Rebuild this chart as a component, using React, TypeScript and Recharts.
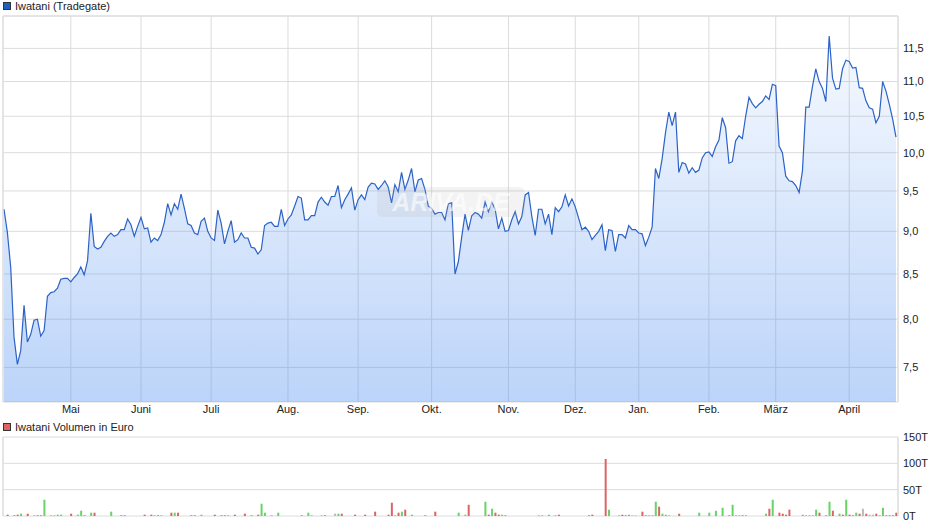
import { ComposedChart, Area, Bar, Cell, XAxis, YAxis, CartesianGrid, ReferenceLine } from "recharts"

// daily closing prices (EUR), one per trading day
const prices = [
  9.27, 8.99, 8.58, 7.81, 7.53, 7.67, 8.15, 7.76, 7.84, 7.99,
  8.0, 7.82, 7.88, 8.25, 8.29, 8.3, 8.34, 8.44, 8.45, 8.45,
  8.41, 8.46, 8.5, 8.58, 8.49, 8.65, 9.22, 8.82, 8.79, 8.81,
  8.88, 8.94, 8.98, 8.94, 8.96, 9.02, 9.02, 9.15, 9.08, 8.94,
  9.06, 9.17, 9.03, 9.04, 8.87, 8.92, 8.89, 8.96, 9.11, 9.34,
  9.2, 9.34, 9.27, 9.46, 9.28, 9.09, 9.07, 8.98, 8.96, 9.12,
  9.16, 9.0, 8.92, 8.89, 9.26, 9.1, 8.85, 9.0, 9.13, 8.87,
  8.9, 8.98, 8.92, 8.92, 8.81, 8.8, 8.73, 8.78, 9.07, 9.1,
  9.11, 9.06, 9.06, 9.27, 9.07, 9.15, 9.2, 9.31, 9.43, 9.41,
  9.14, 9.14, 9.19, 9.19, 9.36,
  9.42, 9.36, 9.32, 9.43, 9.43, 9.57, 9.29, 9.39, 9.46, 9.54,
  9.26, 9.39, 9.45, 9.39, 9.55, 9.6, 9.59, 9.52, 9.57, 9.63,
  9.55, 9.35, 9.58, 9.49, 9.74, 9.52, 9.64, 9.79, 9.49, 9.64,
  9.66, 9.52, 9.31, 9.28, 9.21, 9.23, 9.23, 9.14, 9.34, 9.35,
  8.5, 8.64, 8.93, 9.21, 9.01, 9.19, 9.23, 9.21, 9.16, 9.36,
  9.24, 9.36, 9.27, 9.03, 9.16, 9.0, 9.01, 9.14, 9.24, 9.09,
  9.18, 9.45, 9.48, 9.18, 8.95, 9.27, 9.27, 9.09, 9.21, 8.96,
  9.29, 9.24, 9.3, 9.45, 9.31, 9.4, 9.3, 9.16, 9.02, 9.05,
  9.0, 8.9, 8.95, 9.0, 9.08, 8.77, 9.02, 9.01, 8.76, 8.96,
  8.96, 8.92, 9.07, 9.02, 9.02, 8.98, 8.97, 8.83, 8.93, 9.05,
  9.79, 9.66, 9.92, 10.27, 10.56, 10.37, 10.56, 9.74, 9.87, 9.85,
  9.73, 9.8, 9.74, 9.77, 9.93, 10.0, 10.01, 9.95, 10.08, 10.17,
  10.48, 10.34, 9.86, 9.88, 10.16, 10.23, 10.19, 10.5, 10.77, 10.68,
  10.62, 10.67, 10.71, 10.79, 10.74, 10.96, 10.94, 10.09, 10.0, 9.69,
  9.63, 9.62, 9.57, 9.48, 9.76, 10.63, 10.63, 10.93, 11.19, 11.0,
  10.9, 10.71, 11.69, 11.05, 10.89, 10.9, 11.19, 11.32, 11.3, 11.2,
  11.21, 10.91, 10.9, 10.72, 10.62, 10.6, 10.41, 10.5, 11.0, 10.86,
  10.67, 10.46, 10.21,
]

// [trading day, volume in thousand EUR, u = up / d = down / n = unchanged]
const volumeDays: [number, number, string][] = [
  [1, 2.5, "d"], [3, 1.3, "d"], [4, 2.5, "d"], [5, 4.4, "u"], [7, 4.4, "d"], [9, 1.3, "u"],
  [10, 1.3, "d"], [11, 1.3, "d"], [12, 30.8, "u"], [14, 1.3, "u"], [15, 1.3, "u"], [16, 2.5, "u"],
  [17, 2.5, "u"], [20, 4.4, "d"], [22, 2.5, "u"], [23, 10, "u"], [24, 1.3, "d"], [26, 6.3, "u"],
  [27, 6.3, "d"], [32, 8.2, "u"], [35, 1.3, "d"], [36, 1.3, "d"], [42, 2.5, "d"], [44, 2.5, "d"],
  [45, 1.3, "u"], [46, 1.3, "d"], [47, 1.3, "u"], [50, 6.3, "d"], [51, 6.3, "u"], [52, 6.3, "d"],
  [56, 1.3, "d"], [57, 1.3, "d"], [59, 2.5, "u"], [63, 2.5, "d"], [65, 1.3, "d"], [66, 1.3, "d"],
  [67, 1.3, "u"], [69, 2.5, "d"], [72, 4.4, "d"], [74, 1.3, "d"], [76, 2.5, "d"], [77, 23.3, "u"],
  [78, 6.3, "u"], [80, 1.3, "u"], [82, 6.3, "u"], [89, 1.3, "d"], [91, 6.3, "u"], [92, 1.3, "u"],
  [95, 1.3, "u"], [96, 1.3, "d"], [99, 4.4, "n"], [100, 4.4, "u"], [101, 4.4, "d"], [105, 2.5, "d"],
  [108, 2.5, "d"], [111, 8.2, "d"], [115, 2.5, "d"], [116, 25, "d"], [117, 1.3, "u"], [118, 6.3, "d"],
  [119, 8.2, "u"], [120, 12, "d"], [122, 2.5, "u"], [126, 1.3, "d"], [129, 8.2, "d"], [136, 6.3, "u"],
  [138, 2.5, "u"], [139, 21.4, "d"], [144, 27, "u"], [145, 2.5, "d"], [146, 13.8, "u"], [147, 6.3, "d"],
  [148, 2.5, "d"], [149, 2.5, "u"], [150, 1.3, "d"], [160, 1.3, "u"], [161, 1.3, "u"], [163, 2.5, "u"],
  [165, 1.3, "u"], [166, 2.5, "d"], [175, 1.3, "d"], [176, 2.5, "d"], [180, 108, "d"], [181, 12, "u"],
  [184, 1.3, "u"], [185, 2.5, "d"], [186, 1.3, "d"], [187, 2.5, "u"], [188, 1.3, "n"], [189, 1.3, "n"],
  [191, 8.2, "d"], [192, 1.3, "d"], [193, 1.3, "u"], [194, 1.3, "u"], [195, 27, "u"], [196, 17.6, "d"],
  [197, 4.4, "u"], [198, 2.5, "u"], [199, 1.3, "u"], [202, 4.4, "d"], [208, 6.3, "u"], [211, 6.3, "u"],
  [213, 10, "u"], [215, 15.7, "u"], [217, 1.3, "d"], [218, 21.4, "u"], [219, 1.3, "u"], [220, 1.3, "u"],
  [221, 1.3, "d"], [222, 1.3, "u"], [228, 4.4, "u"], [229, 13.8, "d"], [230, 30.8, "u"], [232, 6.3, "d"],
  [233, 4.4, "d"], [234, 2.5, "d"], [235, 12, "d"], [239, 2.5, "u"], [240, 1.3, "u"], [241, 1.3, "u"],
  [242, 1.3, "u"], [243, 12, "u"], [244, 6.3, "d"], [246, 1.3, "d"], [247, 27, "u"], [248, 10, "d"],
  [250, 4.4, "u"], [251, 2.5, "d"], [252, 30.8, "u"], [253, 2.5, "d"], [254, 1.3, "d"], [255, 6.3, "u"],
  [256, 4.4, "d"], [257, 13.8, "n"], [258, 4.4, "d"], [259, 2.5, "n"], [260, 2.5, "n"], [261, 4.4, "d"],
  [262, 1.3, "u"], [263, 15.7, "u"], [264, 1.3, "d"], [265, 1.3, "d"], [266, 1.3, "d"], [267, 6.3, "d"],
]

const monthStarts = [20, 41, 62, 85, 106, 128, 151, 171, 190, 211, 231, 253]
const monthLabels = ["Mai", "Juni", "Juli", "Aug.", "Sep.", "Okt.", "Nov.", "Dez.", "Jan.", "Feb.", "März", "April"]
const priceTicks = [7.5, 8, 8.5, 9, 9.5, 10, 10.5, 11, 11.5]
const volumeTicks = [0, 50, 100, 150]

const X_MIN = -0.3
const X_MAX = 267.6
const PRICE_MIN = 7.16
const PRICE_MAX = 12.01

const FONT = "'Liberation Sans', Arial, sans-serif"
const GRID = "#dcdcdc"
const TEXT = "#222"
const dirColor: Record<string, string> = { u: "#66d466", d: "#dc6464", n: "#b9b9b9" }

const priceData = prices.map((p, i) => ({ i, p }))
const volumeData = prices.map((_, i) => ({ i, v: 0, dir: "n" }))
volumeDays.forEach(([i, v, dir]) => { volumeData[i] = { i, v, dir } })

const monthLabel = (i: number) => monthLabels[monthStarts.indexOf(i)] ?? ""
const tickStyle = { fontSize: 11, fill: TEXT, fontFamily: FONT }

function Swatch({ color }: { color: string }) {
  return (
    <span style={{ display: "inline-block", width: 6, height: 6, background: color, border: "1px solid #333", marginRight: 4, verticalAlign: "0px" }} />
  )
}

export default function App() {
  return (
    <div style={{ position: "absolute", left: 0, top: 0, width: 940, height: 526, background: "#fff", fontFamily: FONT, overflow: "hidden" }}>
      <div style={{ position: "absolute", left: 3, top: 0, fontSize: 11, lineHeight: "13px", color: TEXT }}>
        <Swatch color="#1f5cc4" />Iwatani (Tradegate)
      </div>

      <div style={{ position: "absolute", left: 0, top: 0 }}>
        <ComposedChart width={940} height={420} data={priceData} margin={{ top: 16, right: 0, bottom: 0, left: 3 }}>
          <defs>
            <linearGradient id="priceFill" x1="0" y1="0" x2="0" y2="1">
              <stop offset="0%" stopColor="#4d8ef0" stopOpacity={0.05} />
              <stop offset="100%" stopColor="#4d8ef0" stopOpacity={0.38} />
            </linearGradient>
          </defs>
          <CartesianGrid stroke={GRID} />
          <XAxis
            type="number"
            dataKey="i"
            domain={[X_MIN, X_MAX]}
            ticks={monthStarts}
            tickFormatter={monthLabel}
            height={18}
            axisLine={false}
            tickLine={false}
            tickSize={0}
            tickMargin={3}
            tick={tickStyle}
            allowDataOverflow
          />
          <YAxis
            orientation="right"
            type="number"
            scale="log"
            domain={[PRICE_MIN, PRICE_MAX]}
            ticks={priceTicks}
            tickFormatter={(v: number) => v.toFixed(1).replace(".", ",")}
            width={42}
            axisLine={{ stroke: GRID }}
            tickLine={false}
            tickSize={0}
            tickMargin={5}
            tick={tickStyle}
            allowDataOverflow
          />
          <ReferenceLine y={PRICE_MAX} stroke={GRID} />
          <ReferenceLine x={X_MIN} stroke={GRID} />
          <Area
            type="linear"
            dataKey="p"
            stroke="#2c62c6"
            strokeWidth={1.2}
            fill="url(#priceFill)"
            fillOpacity={1}
            baseValue="dataMin"
            dot={false}
            activeDot={false}
            isAnimationActive={false}
          />
        </ComposedChart>
      </div>

      <div
        style={{
          position: "absolute", left: 377, top: 187, width: 148, height: 30, borderRadius: 6,
          background: "rgba(170,170,170,0.14)", color: "rgba(255,255,255,0.6)", fontSize: 25, fontWeight: "bold",
          fontStyle: "italic", lineHeight: "30px", textAlign: "center",
        }}
      >
        ARIVA.DE
      </div>

      <div style={{ position: "absolute", left: 3, top: 421, fontSize: 11, lineHeight: "13px", color: TEXT }}>
        <Swatch color="#dc6464" />Iwatani Volumen in Euro
      </div>

      <div style={{ position: "absolute", left: 0, top: 420 }}>
        <ComposedChart width={940} height={106} data={volumeData} margin={{ top: 17, right: 0, bottom: 0, left: 3 }}>
          <CartesianGrid stroke={GRID} />
          <XAxis
            type="number"
            dataKey="i"
            domain={[X_MIN, X_MAX]}
            ticks={monthStarts}
            height={10}
            axisLine={false}
            tickLine={false}
            tick={false}
            allowDataOverflow
          />
          <YAxis
            orientation="right"
            type="number"
            domain={[0, 150]}
            ticks={volumeTicks}
            tickFormatter={(v: number) => `${v}T`}
            width={42}
            axisLine={{ stroke: GRID }}
            tickLine={false}
            tickSize={0}
            tickMargin={5}
            tick={tickStyle}
          />
          <ReferenceLine x={X_MIN} stroke={GRID} />
          <Bar dataKey="v" barSize={2} isAnimationActive={false}>
            {volumeData.map((d) => (
              <Cell key={d.i} fill={dirColor[d.dir]} />
            ))}
          </Bar>
        </ComposedChart>
      </div>
    </div>
  )
}
